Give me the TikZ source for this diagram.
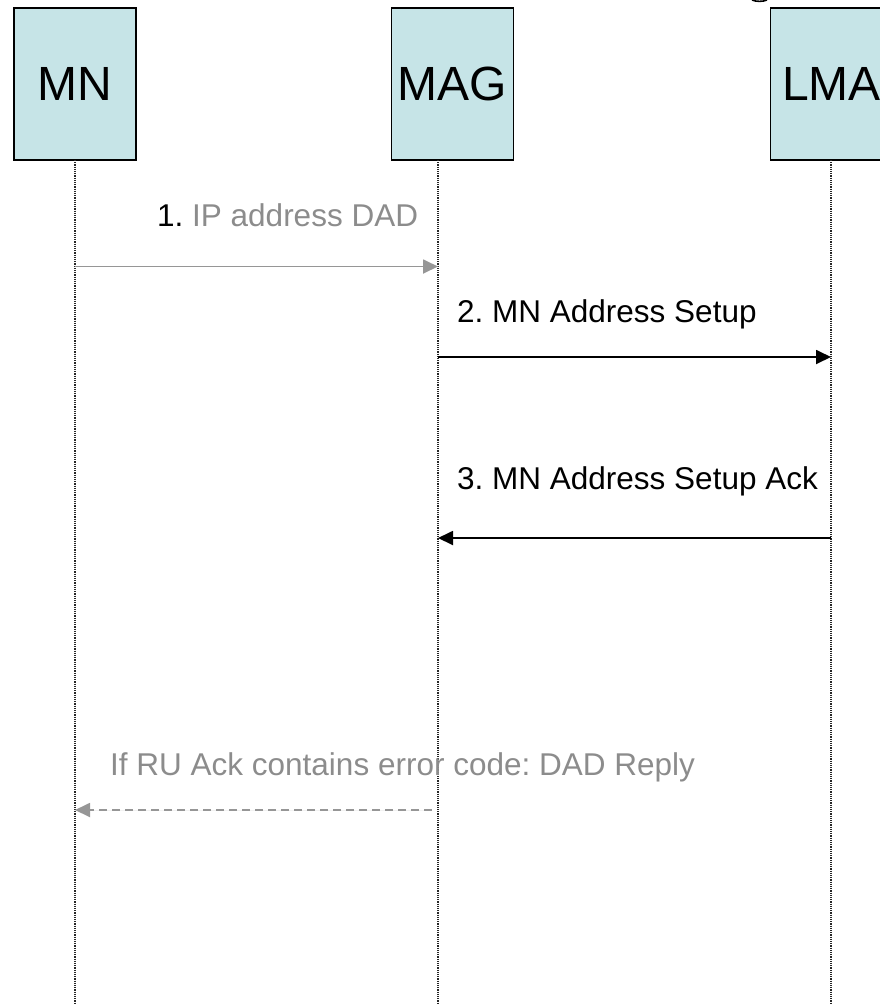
\documentclass[tikz,border=0pt]{standalone}
\usepackage{fontspec}
\setmainfont{Liberation Sans}
\usetikzlibrary{arrows.meta}
\definecolor{boxfill}{RGB}{198,228,231}
\definecolor{msggray}{RGB}{140,140,140}
\definecolor{linegray}{RGB}{150,150,150}
\frenchspacing
\begin{document}
\begin{tikzpicture}[x=1pt,y=-1pt,
  entity/.style={draw=black, line width=1.6pt, fill=boxfill,
    minimum width=122pt, minimum height=152pt, inner sep=0pt,
    font=\fontsize{48}{50}\selectfont},
  life/.style={draw=black!85, line width=1.3pt, dash pattern=on 1.1pt off 1.1pt},
  msg/.style={line width=1.8pt, -{Triangle[length=15pt,width=14pt]}},
  lbl/.style={anchor=base west, inner sep=0pt, font=\fontsize{31.5}{36}\selectfont}]
\useasboundingbox (0,0) rectangle (880,1005);

% entities
\node[entity] (mn)  at (75,84)    {MN};
\node[entity] (mag) at (452.5,84) {MAG};
\node[entity] (lma) at (831.5,84) {LMA};

% lifelines
\coordinate (mntop)  at (75,160);   \coordinate (mnbot)  at (75,1005);
\coordinate (magtop) at (438,160);  \coordinate (magbot) at (438,1005);
\coordinate (lmatop) at (831,160);  \coordinate (lmabot) at (831,1005);
\draw[life] (mntop) -- (mnbot);
\draw[life] (magtop) -- (magbot);
\draw[life] (lmatop) -- (lmabot);

% edge of a clipped heading glyph
\draw[line width=1.6pt] (752,0) .. controls (756,1.8) and (763,1.8) .. (767,0);

% message endpoints
\coordinate (m1a) at (75,266.5);  \coordinate (m1b) at (438,266.5);
\coordinate (m2a) at (438,357);   \coordinate (m2b) at (831,357);
\coordinate (m3a) at (831,538);   \coordinate (m3b) at (438,538);
\coordinate (m4a) at (432,810);   \coordinate (m4b) at (75,810);

% 1. IP address DAD
\node[lbl] (t1) at (157,226) {1. \textcolor{msggray}{IP address DAD}};
\draw[msg, draw=linegray, fill=linegray] (m1a) -- (m1b);

% 2. MN Address Setup
\node[lbl] (t2) at (457,322) {2. MN Address Setup};
\draw[msg, draw=black, fill=black] (m2a) -- (m2b);

% 3. MN Address Setup Ack
\node[lbl] (t3) at (457,489) {3. MN Address Setup Ack};
\draw[msg, draw=black, fill=black] (m3a) -- (m3b);

% DAD reply
\node[lbl, text=msggray] (t4) at (110,775) {If RU Ack contains error code: DAD Reply};
\draw[msg, draw=linegray, fill=linegray, dash pattern=on 8pt off 5pt] (m4a) -- (m4b);
\end{tikzpicture}
\end{document}
